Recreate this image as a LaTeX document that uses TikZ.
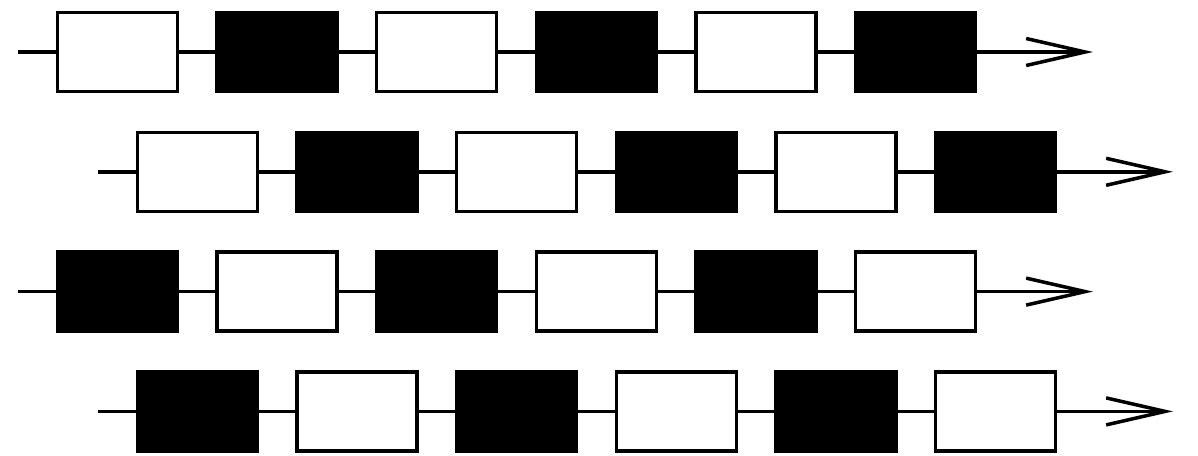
\documentclass[tikz,border=0pt]{standalone}
\usetikzlibrary{arrows.meta}

\begin{document}
\begin{tikzpicture}[
    x=0.02cm, y=-0.02cm,
    cell/.style ={draw, line width=2pt, inner sep=0pt,
                  minimum width=2.40cm, minimum height=1.58cm},
    wire/.style ={line width=2pt},
    flow/.style ={wire, -{Straight Barb[length=1.18cm, width=0.54cm, line width=2pt]}}
]
\useasboundingbox (0,0) rectangle (1198,456);

% =================== four rows, every other one shifted right ===================
\foreach \r in {0,...,3} {
    \pgfmathsetmacro{\dx}{80*mod(\r,2)}
    \pgfmathsetmacro{\yy}{52+119.8*\r}
    \pgfmathtruncatemacro{\first}{int(\r/2)}
    \coordinate (in\r)  at (18+\dx,\yy);
    \coordinate (out\r) at (1093+\dx,\yy);

    % boxes, alternating white / black
    \foreach \i in {0,...,5} {
        \pgfmathtruncatemacro{\dark}{mod(\i+\first,2)}
        \ifodd\dark \def\tone{black}\else \def\tone{white}\fi
        \node[cell, fill=\tone] (b\r-\i) at (117.5+\dx+159.6*\i,\yy) {};
    }

    % wires between the boxes
    \draw[wire] (in\r) -- (b\r-0.west);
    \foreach \i [evaluate=\i as \j using int(\i+1)] in {0,...,4}
        \draw[wire] (b\r-\i.east) -- (b\r-\j.west);
    \draw[flow] (b\r-5.east) -- (out\r);
}

\end{tikzpicture}
\end{document}
